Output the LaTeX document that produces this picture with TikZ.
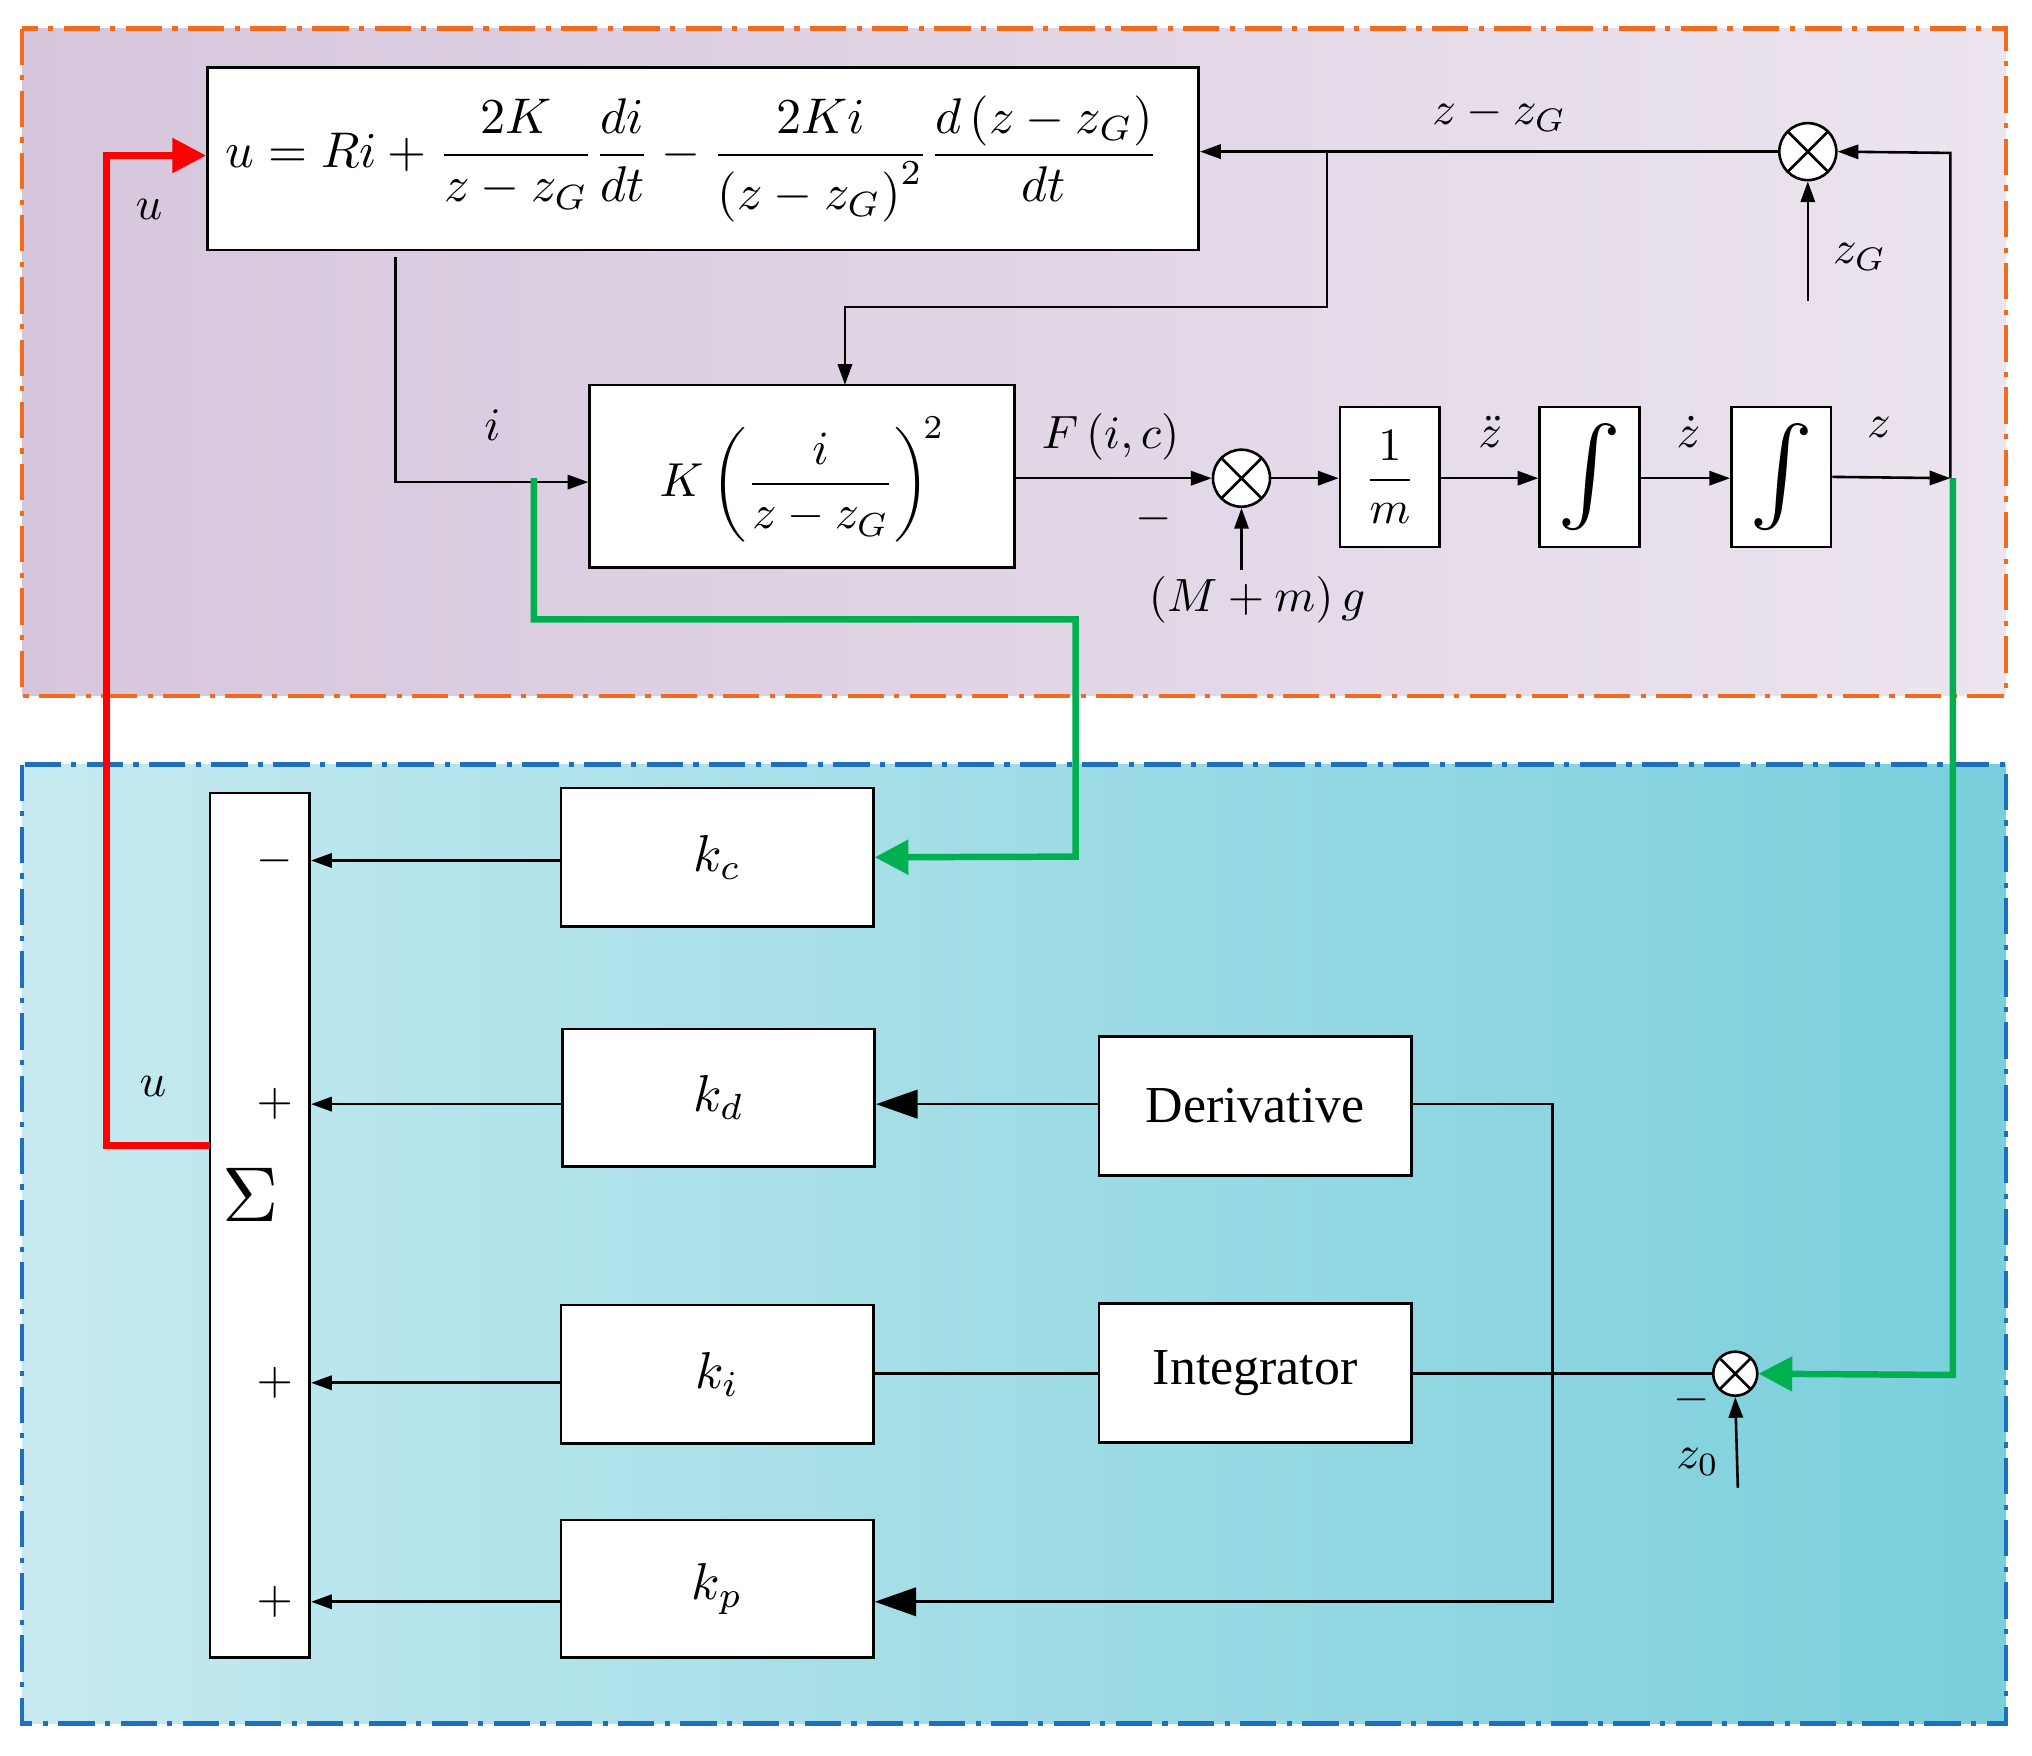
\documentclass[tikz,border=0pt]{standalone}
\usepackage{amsmath}
\usepackage{fontspec}
\setmainfont{Liberation Serif}
\usetikzlibrary{arrows.meta}
\definecolor{orng}{HTML}{F46A1C}
\definecolor{blu}{HTML}{1F6FBF}
\definecolor{grn}{HTML}{00B050}
\newcommand\mlb[2][3.6]{\scalebox{#1}{$#2$}}
\begin{document}
\begin{tikzpicture}[x=1pt,y=-1pt,
 blk/.style={draw,line width=2pt,fill=white},
 ln/.style={line width=2pt},
 ar/.style={ln,-{Triangle[length=16pt,width=11pt]}},
 big/.style={ln,-{Triangle[length=32pt,width=22pt]}},
 gr/.style={line width=5pt,grn,-{Triangle[length=26pt,width=26pt]}},
 rd/.style={line width=5pt,red,-{Triangle[length=26pt,width=26pt]}},
 xc/.style={draw,line width=2pt,circle,inner sep=0pt,fill=white,
   path picture={\draw[line width=2pt] ([shift={(-20pt,-20pt)}]path picture bounding box.center)--([shift={(20pt,20pt)}]path picture bounding box.center) ([shift={(20pt,-20pt)}]path picture bounding box.center)--([shift={(-20pt,20pt)}]path picture bounding box.center);}},
 circ/.style={xc,minimum size=44pt},
 scirc/.style={xc,minimum size=34pt}]
\useasboundingbox (0,0) rectangle (1568,1355);
\shade[left color={rgb,255:red,214;green,198;blue,220},right color={rgb,255:red,236;green,228;blue,239}] (17,22) rectangle (1548,537);
\draw[orng,line width=3.5pt,dash pattern=on 28pt off 8pt on 4pt off 8pt] (17,22) rectangle (1548,537);
\shade[left color={rgb,255:red,198;green,234;blue,240},right color={rgb,255:red,122;green,207;blue,220}] (17,590) rectangle (1548,1330);
\draw[blu,line width=3.5pt,dash pattern=on 28pt off 8pt on 4pt off 8pt] (17,590) rectangle (1548,1330);

% blocks
\node[blk,minimum width=765pt,minimum height=141pt] (eq) at (542.5,122.5) {};
\node at (534,122.5) {\resizebox{720pt}{!}{$u=Ri+\dfrac{2K}{z-z_G}\dfrac{di}{dt}-\dfrac{2Ki}{\left(z-z_G\right)^2}\dfrac{d\left(z-z_G\right)}{dt}$}};
\node[blk,minimum width=328pt,minimum height=141pt] (Kb) at (619,367.5) {};
\node at (619,370) {\resizebox{220pt}{!}{$K\left(\dfrac{i}{z-z_G}\right)^{\!2}$}};
\node[blk,minimum width=77pt,minimum height=108pt] (m) at (1072.5,368) {\resizebox{40pt}{!}{$\dfrac{1}{m}$}};
\node[blk,minimum width=77pt,minimum height=108pt] (i1) at (1226.5,368) {\resizebox{!}{60pt}{$\int$}};
\node[blk,minimum width=77pt,minimum height=108pt] (i2) at (1374.5,368) {\resizebox{!}{60pt}{$\int$}};
\node[circ] (c1) at (958,369) {};
\node[circ] (c2) at (1395,117) {};
\node[scirc] (c3) at (1339,1060) {};

\node[blk,minimum width=77pt,minimum height=667pt] (S) at (200.5,945.5) {};
\node at (193,922) {\mlb[6]{\Sigma}};
\node[blk,minimum width=241pt,minimum height=107pt] (kc) at (553.5,661.5) {\mlb[4]{k_c}};
\node[blk,minimum width=241pt,minimum height=106pt] (kd) at (554.5,847) {\mlb[4]{k_d}};
\node[blk,minimum width=241pt,minimum height=107pt] (ki) at (553.5,1060.5) {\mlb[4]{k_i}};
\node[blk,minimum width=241pt,minimum height=106pt] (kp) at (553.5,1226) {\mlb[4]{k_p}};
\node[blk,minimum width=241pt,minimum height=107pt,font=\fontsize{40}{46}\selectfont] (der) at (968.5,853.5) {Derivative};
\node[blk,minimum width=241pt,minimum height=107pt,font=\fontsize{40}{46}\selectfont] (int) at (968.5,1059.5) {Integrator};

% top connectors
\draw[ar] (c2.west) -- (eq.east |- c2.west);
\draw[ar] (1024,117) -- (1024,237) -- (652,237) -- (652,297);
\node at (1157,88) {\mlb{z-z_G}};
\draw[ar] (i2.east) -- (1505,369);
\draw[ar] (1505,369) -- (1505,118) -- (c2.east);
\node at (1450,330) {\mlb{z}};
\coordinate (zg) at (1395,232);
\draw[ar] (zg) -- (c2.south);
\node at (1435,198) {\mlb{z_G}};
\draw[ar] (305,198) -- (305,372) -- (Kb.west |- 0,372);
\node at (380,328) {\mlb{i}};
\draw[ar] (Kb.east |- c1) -- (c1.west);
\node at (857,337) {\mlb{F\left(i,c\right)}};
\node at (890,400) {\mlb{-}};
\coordinate (mg) at (958,440);
\draw[ar] (mg) -- (c1.south);
\node at (970,463) {\mlb{\left(M+m\right)g}};
\draw[ar] (c1.east) -- (m.west |- c1);
\draw[ar] (m.east |- c1) -- (i1.west |- c1);
\node at (1150,333) {\mlb{\ddot z}};
\draw[ar] (i1.east |- c1) -- (i2.west |- c1);
\node at (1303,333) {\mlb{\dot z}};

% green & red
\draw[gr] (412,369) -- (412,478) -- (830,478) -- (830,661) -- (kc.east);
\draw[gr] (1507,369) -- (1507,1061) -- (c3.east);
\draw[rd] (162,884) -- (82,884) -- (82,120) -- (eq.west |- 0,120);
\node at (115,162) {\mlb{u}};
\node at (118,838) {\mlb{u}};

% bottom connectors
\draw[ar] (kc.west |- 0,664) -- (S.east |- 0,664);
\node at (212,664) {\mlb{-}};
\draw[ar] (kd.west |- 0,852) -- (S.east |- 0,852);
\node at (212,852) {\mlb{+}};
\draw[big] (der.west |- 0,852) -- (kd.east |- 0,852);
\draw[ar] (ki.west |- 0,1067) -- (S.east |- 0,1067);
\node at (212,1067) {\mlb{+}};
\draw[ln] (int.west |- 0,1060) -- (ki.east |- 0,1060);
\draw[ln] (c3.west) -- (int.east |- c3.west);
\draw[big] (der.east |- 0,852) -- (1198,852) -- (1198,1236) -- (kp.east |- 0,1236);
\draw[ar] (kp.west |- 0,1236) -- (S.east |- 0,1236);
\node at (212,1236) {\mlb{+}};
\coordinate (z0) at (1341,1148);
\draw[ar] (z0) -- (c3.south);
\node at (1310,1128) {\mlb{z_0}};
\node at (1305,1080) {\mlb{-}};
\end{tikzpicture}
\end{document}
